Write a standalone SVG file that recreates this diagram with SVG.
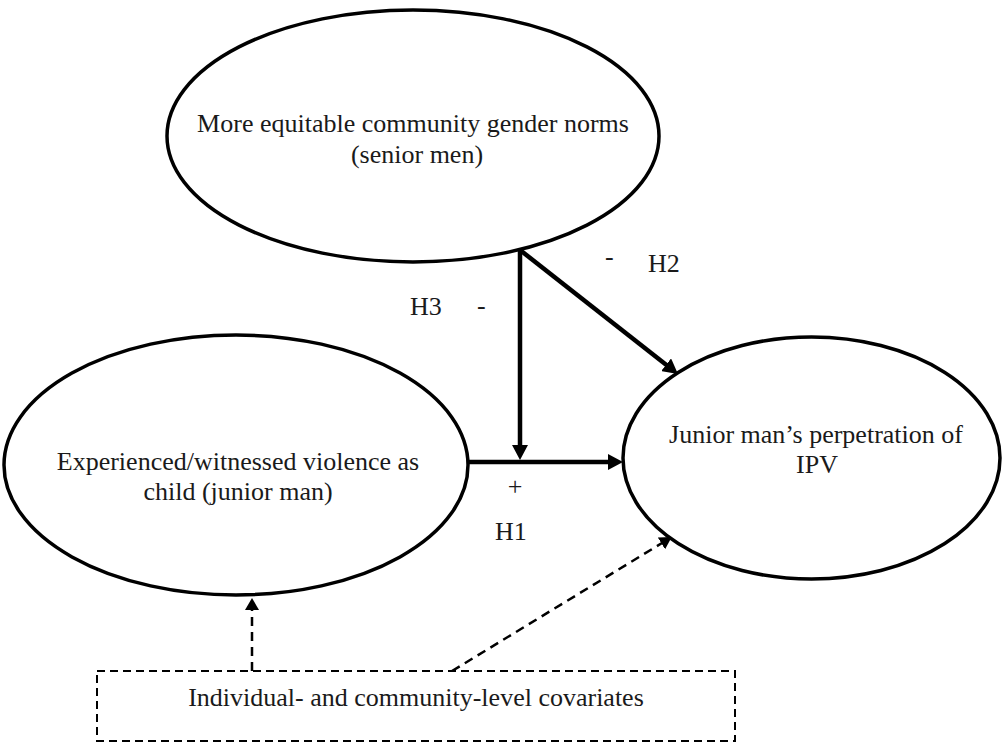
<svg xmlns="http://www.w3.org/2000/svg" width="1002" height="747" viewBox="0 0 1002 747">
<style>
.node{fill:#fff;stroke:#000;stroke-width:3.5}
.t{font-family:"Liberation Serif","Times New Roman",serif;font-size:26px;fill:#1a1a1a}
.c{text-anchor:middle}
.solid{stroke:#000;stroke-width:4.5;fill:none}
.dash{stroke:#000;stroke-width:2.5;fill:none;stroke-dasharray:9 6}
.box{fill:#fff;stroke:#000;stroke-width:2;stroke-dasharray:8 5}
</style>
<defs>
<marker id="ah" markerUnits="userSpaceOnUse" markerWidth="16" markerHeight="16" refX="4" refY="8" orient="auto">
<path d="M0,0 L15,8 L0,16 z" fill="#000"/>
</marker>
<marker id="ahs" markerUnits="userSpaceOnUse" markerWidth="13" markerHeight="14" refX="3" refY="7" orient="auto">
<path d="M0,0 L12,7 L0,14 z" fill="#000"/>
</marker>
</defs>
<g id="node-norms">
<ellipse class="node" cx="413" cy="136" rx="246" ry="126"/>
<text class="t c" x="413" y="132">More equitable community gender norms</text>
<text class="t c" x="417" y="163">(senior men)</text>
</g>
<g id="node-violence">
<ellipse class="node" cx="236" cy="465" rx="232" ry="130"/>
<text class="t c" x="238" y="470">Experienced/witnessed violence as</text>
<text class="t c" x="238" y="500">child (junior man)</text>
</g>
<g id="node-ipv">
<ellipse class="node" cx="811.5" cy="458" rx="188.5" ry="121"/>
<text class="t c" x="816" y="443">Junior man’s perpetration of</text>
<text class="t c" x="817" y="473">IPV</text>
</g>
<g id="node-covariates">
<rect class="box" x="97" y="671" width="638" height="70"/>
<text class="t c" x="416" y="706">Individual- and community-level covariates</text>
</g>
<g id="connectors">
<line class="solid" x1="467" y1="462" x2="612" y2="462" marker-end="url(#ah)"/>
<line class="solid" x1="520" y1="250" x2="520" y2="449" marker-end="url(#ah)"/>
<line class="solid" x1="520" y1="250" x2="669.3" y2="367.2" marker-end="url(#ah)"/>
<line class="dash" x1="252" y1="671" x2="252" y2="607" marker-end="url(#ahs)"/>
<line class="dash" x1="452" y1="671" x2="664" y2="541.8" marker-end="url(#ahs)"/>
</g>
<g id="labels">
<text class="t" x="410" y="315">H3</text>
<text class="t" x="477" y="314">-</text>
<text class="t" x="605" y="265">-</text>
<text class="t" x="648" y="272">H2</text>
<text class="t c" x="515" y="495">+</text>
<text class="t" x="495" y="540">H1</text>
</g>
</svg>
